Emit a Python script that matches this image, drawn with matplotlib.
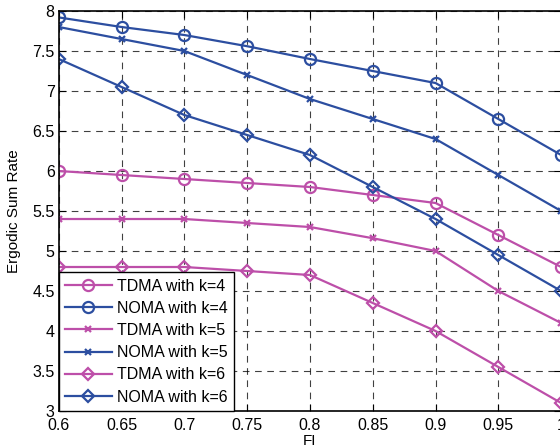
import matplotlib.pyplot as plt
import numpy as np

plt.rcParams['font.family'] = ['Liberation Sans', 'DejaVu Sans']

fi = [0.6, 0.65, 0.7, 0.75, 0.8, 0.85, 0.9, 0.95, 1.0]

tdma_k4 = [6.0, 5.95, 5.9, 5.85, 5.8, 5.7, 5.6, 5.2, 4.8]
noma_k4 = [7.92, 7.8, 7.7, 7.56, 7.4, 7.25, 7.1, 6.65, 6.2]
tdma_k5 = [5.4, 5.4, 5.4, 5.35, 5.3, 5.16, 5.0, 4.5, 4.1]
noma_k5 = [7.8, 7.65, 7.5, 7.2, 6.9, 6.65, 6.4, 5.95, 5.5]
tdma_k6 = [4.8, 4.8, 4.8, 4.75, 4.7, 4.35, 4.0, 3.55, 3.1]
noma_k6 = [7.4, 7.05, 6.7, 6.45, 6.2, 5.8, 5.4, 4.95, 4.5]

labels = ["TDMA with k=4", "NOMA with k=4", "TDMA with k=5",
          "NOMA with k=5", "TDMA with k=6", "NOMA with k=6"]

magenta = "#bd4fa9"
blue = "#2c4ea0"

fig = plt.figure(figsize=(5.6, 4.48), dpi=100)
ax = fig.add_axes([0.105, 0.0826, 0.897, 0.8928])

series = [tdma_k4, noma_k4, tdma_k5, noma_k5, tdma_k6, noma_k6]
colors = [magenta, blue, magenta, blue, magenta, blue]
markers = ["o", "o", "x", "x", "D", "D"]
msizes = [8, 8, 4, 4, 6.5, 6.5]
for vals, c, m, ms, lab in zip(series, colors, markers, msizes, labels):
    ax.plot(fi, vals, color=c, marker=m, markersize=ms, markerfacecolor="none",
            markeredgecolor=c, markeredgewidth=1.6, linewidth=1.6, label=lab)

ax.set_xlim(0.6, 1.0)
ax.set_ylim(3, 8)
ax.set_xticks(np.arange(0.6, 1.0001, 0.05))
ax.set_xticklabels(["0.6", "0.65", "0.7", "0.75", "0.8", "0.85", "0.9", "0.95", "1"])
ax.set_yticks(np.arange(3, 8.01, 0.5))
ax.set_yticklabels(["3", "3.5", "4", "4.5", "5", "5.5", "6", "6.5", "7", "7.5", "8"])
ax.tick_params(direction="in", top=True, right=True, labelsize=11.5, length=5)
ax.tick_params(axis="x", pad=5)
ax.tick_params(axis="y", pad=3)
ax.grid(True, linestyle=(0, (6, 5)), color="black", linewidth=0.8, alpha=0.75)
for s in ax.spines.values():
    s.set_linewidth(1.2)
ax.set_xlabel("FI", fontsize=11, labelpad=1)
ax.set_ylabel("Ergodic Sum Rate", fontsize=11, labelpad=8)

leg = ax.legend(loc="lower left", fontsize=11.5, fancybox=False, framealpha=1,
                edgecolor="black", borderaxespad=0, handlelength=2.9,
                labelspacing=0.45, borderpad=0.4, handletextpad=0.35)
leg.get_frame().set_linewidth(1.0)

fig.savefig("out.png", dpi=100)
